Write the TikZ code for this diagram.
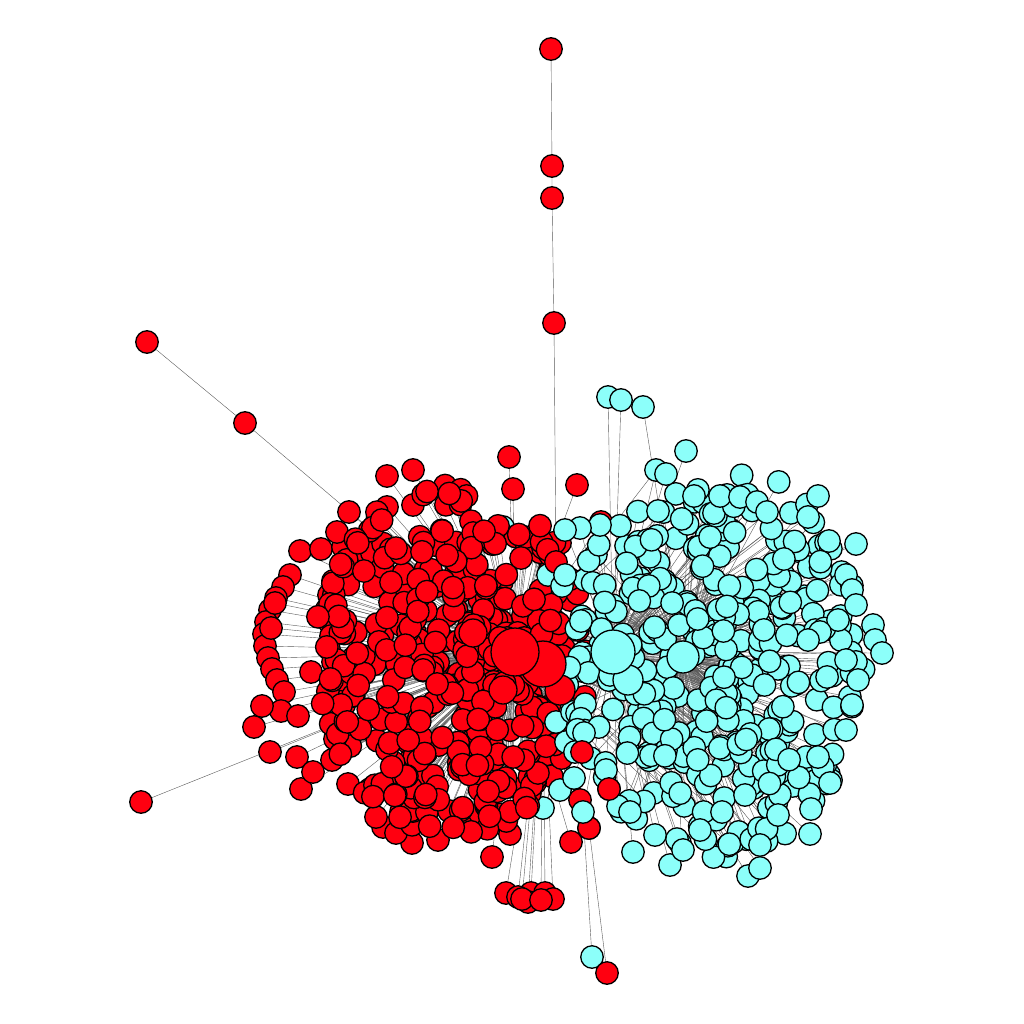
\documentclass[tikz,border=0pt]{standalone}
\definecolor{rnode}{RGB}{255,0,16}
\definecolor{cnode}{RGB}{140,255,250}
\tikzset{
  edge/.style={draw=black!65, line width=0.4pt},
  rn/.style={circle, draw=black, line width=1.3pt, fill=rnode, minimum size=22.5pt, inner sep=0pt},
  cn/.style={circle, draw=black, line width=1.3pt, fill=cnode, minimum size=22.5pt, inner sep=0pt},
}
\begin{document}
\begin{tikzpicture}[x=1pt,y=-1pt]
\useasboundingbox (0,0) rectangle (1024,1024);
\pgfmathsetseed{4242}
% hubs
\coordinate (rh) at (515,652);
\coordinate (rh2) at (543,664);
\coordinate (ch) at (613,652);
\coordinate (ch2) at (683,657);
% random red cluster
\foreach \i in {1,...,430}{
  \pgfmathsetmacro\myA{360*rnd}
  \pgfmathsetmacro\myR{(0.02+0.98*rnd)^0.62}
  \coordinate (r\i) at ({452+140*\myR*cos(\myA)},{660+176*\myR*sin(\myA)});
}
% random cyan cluster
\foreach \i in {1,...,380}{
  \pgfmathsetmacro\myA{360*rnd}
  \pgfmathsetmacro\myR{(0.02+0.98*rnd)^0.65}
  \coordinate (c\i) at ({716+150*\myR*cos(\myA)},{660+198*\myR*sin(\myA)});
}
% cyan nodes mixed into the red side
\foreach \x/\y [count=\k] in {503/527,543/808,560/790,574/778,566/742,556/722,572/712,548/575,562/586}{
  \coordinate (cm\k) at (\x,\y);
}
% explicit red nodes
\foreach \x/\y [count=\k] in {290/575,283/587,276/598,270/610,266/622,264/634,265/646,268/658,272/669,277/680,284/692,271/628,275/603,
 333/581,329/595,327/609,329/622,331/636,329/649,333/662,337/676,341/690,
 300/551,321/549,343/547,349/512,337/532,352/560,
 254/727,270/752,297/757,301/789,313/772,332/760,348/784,370/789,281/711,298/716,262/706,311/672,
 412/843,438/840,492/857,510/834,571/842,589/828,609/789,580/800,383/827,396/833,455/822,468/818,376/817,401/812,
 509/457,513/489,577/485,601/522,387/476,413/470,387/507,413/505,453/492,550/562,560/543,570/600,578/630,582/730,565/770,556/752}{
  \coordinate (ra\k) at (\x,\y);
}
\def\nra{68}
\coordinate (rt) at (556,562);
% bottom red group
\foreach \x/\y [count=\k] in {506/893,531/893,518/897,545/893,528/902,553/899,522/899,541/900}{
  \coordinate (rb\k) at (\x,\y);
}
% explicit cyan nodes
\foreach \x/\y [count=\k] in {846/575,852/590,856/605,873/625,875/640,882/653,846/660,858/680,838/620,820/632,808/640,852/705,846/730,830/783,818/757,
 670/865,683/850,700/830,748/876,760/868,810/834,811/809,778/815,760/845,633/852,655/835,722/812,745/795,630/812,606/770,575/752,584/733,
 686/451,656/470,666/474,694/496,720/496,740/497,757/502,767/512,818/496,808/517,829/541,856/544,658/511,600/525,580/528,565/530,565/575,567/560}{
  \coordinate (ca\k) at (\x,\y);
}
\def\nca{49}
\coordinate (cb) at (583,812);
\coordinate (rbb) at (589,828);
% outliers
\coordinate (t1) at (551,49);
\coordinate (t2) at (552,166);
\coordinate (t3) at (552,198);
\coordinate (t4) at (554,323);
\coordinate (l1) at (147,342);
\coordinate (l2) at (245,423);
\coordinate (l3) at (141,802);
\coordinate (bc) at (592,957);
\coordinate (br) at (607,973);
\coordinate (ct1) at (608,397);
\coordinate (ct2) at (621,400);
\coordinate (ct3) at (643,407);
% ---------- edges ----------
\foreach \i in {1,...,430}{\draw[edge] (r\i) -- (rh);}
\foreach \i in {1,...,\nra}{\draw[edge] (ra\i) -- (rh);}
\foreach \i in {1,...,8}{\draw[edge] (rb\i) -- (rh2);}
\foreach \i in {2,4,...,380}{\draw[edge] (c\i) -- (ch);}
\foreach \i in {1,3,...,379}{\draw[edge] (c\i) -- (ch2);}
\foreach \i in {1,...,\nca}{\draw[edge] (ca\i) -- (ch);}
\foreach \i in {1,...,9}{\draw[edge] (cm\i) -- (ch);}
\foreach \i in {3,18,...,380}{\draw[edge] (c\i) -- (rh);}
\foreach \i in {14,24,...,\nca}{\draw[edge] (ca\i) -- (rh);}
\draw[edge] (t1) -- (t2) -- (t3) -- (t4) -- (rt);
\draw[edge] (rt) -- (rh);
\draw[edge] (l1) -- (l2) -- (rh);
\draw[edge] (l3) -- (rh);
\draw[edge] (bc) -- (cb) -- (ch);
\draw[edge] (br) -- (rbb) -- (rh);
\draw[edge] (ct1) -- (ch);
\draw[edge] (ct2) -- (ch);
\draw[edge] (ct3) -- (ch2);
% ---------- nodes ----------
\foreach \i in {1,2}{\node[cn] (CM\i) at (cm\i) {};}
\foreach \i in {1,...,\nra}{\node[rn] (RA\i) at (ra\i) {};}
\foreach \i in {1,...,430}{\node[rn] (R\i) at (r\i) {};}
\foreach \i in {3,...,9}{\node[cn] (CM\i) at (cm\i) {};}
\node[rn] (RT) at (rt) {};
\node[rn] (RBB) at (rbb) {};
\foreach \i in {1,...,8}{\node[rn] (RB\i) at (rb\i) {};}
\foreach \i in {1,...,380}{\node[cn] (C\i) at (c\i) {};}
\foreach \i in {1,...,\nca}{\node[cn] (CA\i) at (ca\i) {};}
\node[cn] (CB) at (cb) {};
\node[rn] (T1) at (t1) {};
\node[rn] (T2) at (t2) {};
\node[rn] (T3) at (t3) {};
\node[rn] (T4) at (t4) {};
\node[rn] (L1) at (l1) {};
\node[rn] (L2) at (l2) {};
\node[rn] (L3) at (l3) {};
\node[cn] (BC) at (bc) {};
\node[rn] (BR) at (br) {};
\node[cn] (CT1) at (ct1) {};
\node[cn] (CT2) at (ct2) {};
\node[cn] (CT3) at (ct3) {};
% medium and hub nodes
\node[rn, minimum size=28pt] (RM1) at (473,633) {};
\node[rn, minimum size=28pt] (RM2) at (503,690) {};
\node[rn, minimum size=30pt] (RM3) at (560,690) {};
\node[cn, minimum size=30pt] (CM0) at (628,680) {};
\node[rn, minimum size=46pt] (RH2) at (rh2) {};
\node[rn, minimum size=48pt] (RH) at (rh) {};
\node[cn, minimum size=32pt] (CH2) at (ch2) {};
\node[cn, minimum size=44pt] (CH) at (ch) {};
\node[rn] (RX1) at (609,789) {};
\node[rn] (RX2) at (582,752) {};
\end{tikzpicture}
\end{document}
